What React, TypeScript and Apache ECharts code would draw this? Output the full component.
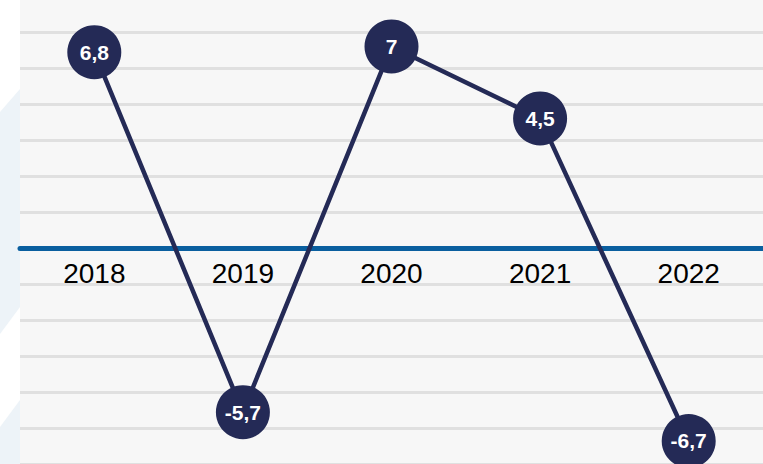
import React, { useEffect, useRef } from "react";
import * as echarts from "echarts";

const years = ["2018", "2019", "2020", "2021", "2022"];
const growth = [6.8, -5.7, 7, 4.5, -6.7];

const NAVY = "#242a56";
const BLUE = "#0a5f9f";

// layout of the plotting area (pixels)
const GRID_TOP = -4;
const GRID_HEIGHT = 504;
const Y_MIN = -8.75;
const Y_MAX = 8.75;
// distance from the grid's bottom edge to the zero level, so the axis sits on zero
const ZERO_OFFSET = (GRID_HEIGHT * (0 - Y_MIN)) / (Y_MAX - Y_MIN);

export default function App() {
  const ref = useRef<HTMLDivElement>(null);
  useEffect(() => {
    if (!ref.current) return;
    const chart = echarts.init(ref.current, null, { renderer: "svg" });
    chart.setOption({
      animation: false,
      backgroundColor: "#ffffff",
      graphic: [
        {
          type: "polygon",
          z: -10,
          shape: { points: [[0, 112], [20, 89], [20, 307], [0, 334]] },
          style: { fill: "#edf3f8" },
        },
        {
          type: "polygon",
          z: -10,
          shape: { points: [[0, 427], [20, 400], [20, 464], [0, 464]] },
          style: { fill: "#edf3f8" },
        },
      ],
      grid: {
        left: 20,
        right: 0,
        top: GRID_TOP,
        height: GRID_HEIGHT,
        show: true,
        backgroundColor: "#f7f7f7",
        borderWidth: 0,
        containLabel: false,
        outerBoundsMode: "none",
      },
      xAxis: {
        type: "category",
        data: years,
        boundaryGap: true,
        offset: -ZERO_OFFSET,
        axisLine: { show: true, onZero: false, lineStyle: { color: BLUE, width: 5 } },
        axisTick: { show: false },
        splitLine: { show: false },
        axisLabel: {
          fontSize: 28,
          color: "#000000",
          fontFamily: "Liberation Sans, Arial, sans-serif",
          margin: 11,
        },
        z: 5,
      },
      yAxis: {
        type: "value",
        min: Y_MIN,
        max: Y_MAX,
        interval: 1.25,
        axisLine: { show: false },
        axisTick: { show: false },
        axisLabel: { show: false },
        splitLine: { show: true, lineStyle: { color: "#e0e0e0", width: 3 } },
      },
      series: [
        {
          type: "line",
          data: growth,
          symbol: "circle",
          symbolSize: 54,
          lineStyle: { color: NAVY, width: 4.5 },
          itemStyle: { color: NAVY },
          z: 10,
          label: {
            show: true,
            position: "inside",
            color: "#ffffff",
            fontWeight: "bold",
            fontSize: 21,
            fontFamily: "Liberation Sans, Arial, sans-serif",
            formatter: (p: any) => String(p.value).replace(".", ","),
          },
        },
      ],
    });
    return () => chart.dispose();
  }, []);
  return (
    <div
      ref={ref}
      style={{ position: "fixed", left: 0, top: 0, width: 763, height: 464 }}
    />
  );
}
